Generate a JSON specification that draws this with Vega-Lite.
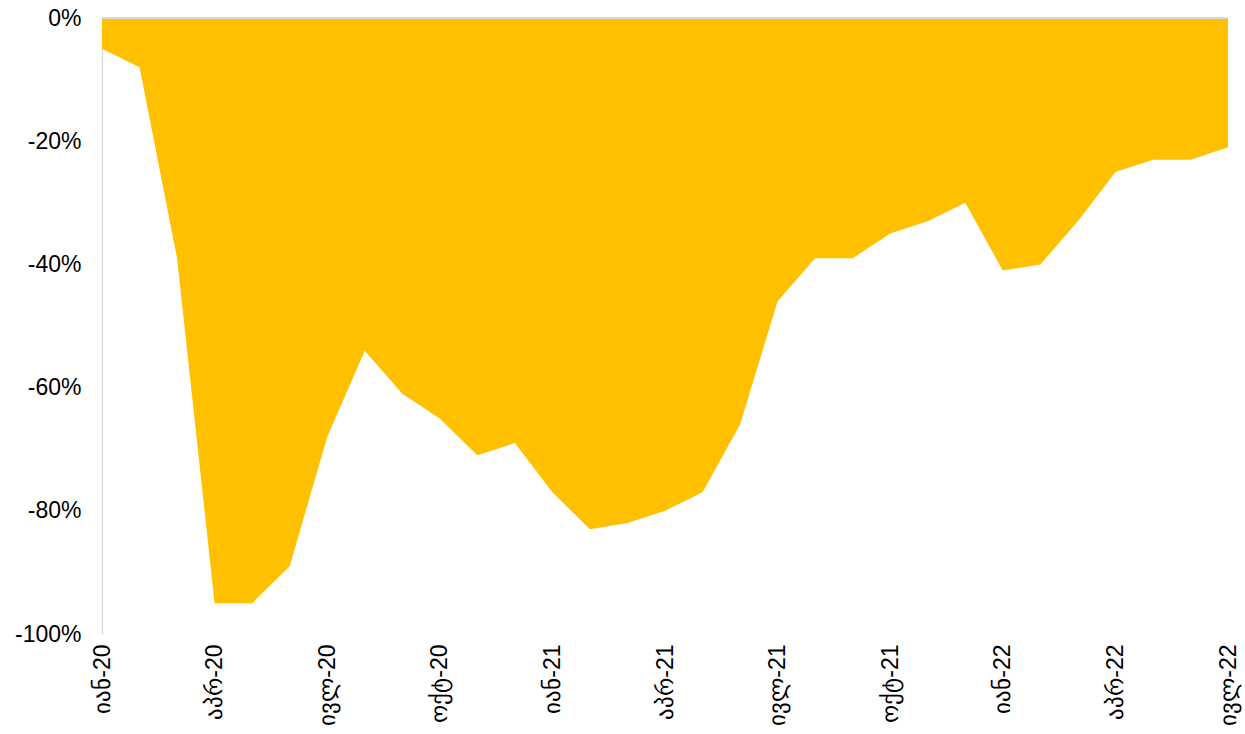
{
  "$schema": "https://vega.github.io/schema/vega-lite/v6.json",
  "width": 1126,
  "height": 616,
  "autosize": {"type": "none"},
  "padding": {"left": 102, "top": 18, "right": 17, "bottom": 100},
  "background": "white",
  "config": {"view": {"stroke": null}, "font": "Liberation Sans"},
  "data": {"values": [
    {"m": "იან-20", "v": -0.05}, {"m": "თებ-20", "v": -0.08}, {"m": "მარ-20", "v": -0.39},
    {"m": "აპრ-20", "v": -0.95}, {"m": "მაი-20", "v": -0.95}, {"m": "ივნ-20", "v": -0.89},
    {"m": "ივლ-20", "v": -0.68}, {"m": "აგვ-20", "v": -0.54}, {"m": "სექ-20", "v": -0.61},
    {"m": "ოქტ-20", "v": -0.65}, {"m": "ნოე-20", "v": -0.71}, {"m": "დეკ-20", "v": -0.69},
    {"m": "იან-21", "v": -0.77}, {"m": "თებ-21", "v": -0.83}, {"m": "მარ-21", "v": -0.82},
    {"m": "აპრ-21", "v": -0.80}, {"m": "მაი-21", "v": -0.77}, {"m": "ივნ-21", "v": -0.66},
    {"m": "ივლ-21", "v": -0.46}, {"m": "აგვ-21", "v": -0.39}, {"m": "სექ-21", "v": -0.39},
    {"m": "ოქტ-21", "v": -0.35}, {"m": "ნოე-21", "v": -0.33}, {"m": "დეკ-21", "v": -0.30},
    {"m": "იან-22", "v": -0.41}, {"m": "თებ-22", "v": -0.40}, {"m": "მარ-22", "v": -0.33},
    {"m": "აპრ-22", "v": -0.25}, {"m": "მაი-22", "v": -0.23}, {"m": "ივნ-22", "v": -0.23},
    {"m": "ივლ-22", "v": -0.21}
  ]},
  "layer": [
    {
      "mark": {"type": "area", "color": "#FFC000", "interpolate": "linear"},
      "encoding": {
        "x": {
          "field": "m", "type": "ordinal", "sort": null,
          "scale": {"type": "point", "padding": 0},
          "axis": {
            "title": null,
            "values": ["იან-20", "აპრ-20", "ივლ-20", "ოქტ-20", "იან-21", "აპრ-21", "ივლ-21", "ოქტ-21", "იან-22", "აპრ-22", "ივლ-22"],
            "labelAngle": -90, "domain": false, "ticks": false, "labelPadding": 10,
            "labelFontSize": 23, "labelColor": "#000000", "grid": false
          }
        },
        "y": {
          "field": "v", "type": "quantitative",
          "scale": {"domain": [-1, 0], "nice": false},
          "axis": {
            "title": null, "values": [0, -0.2, -0.4, -0.6, -0.8, -1],
            "labelExpr": "round(datum.value*100) + '%'",
            "grid": false, "ticks": false, "domainColor": "#D9D9D9", "domainWidth": 1.3,
            "labelFontSize": 23, "labelColor": "#000000", "labelPadding": 21
          }
        }
      }
    },
    {
      "mark": {"type": "rule", "color": "#D9D9D9", "strokeWidth": 1.3},
      "encoding": {"y": {"datum": 0}}
    }
  ]
}
